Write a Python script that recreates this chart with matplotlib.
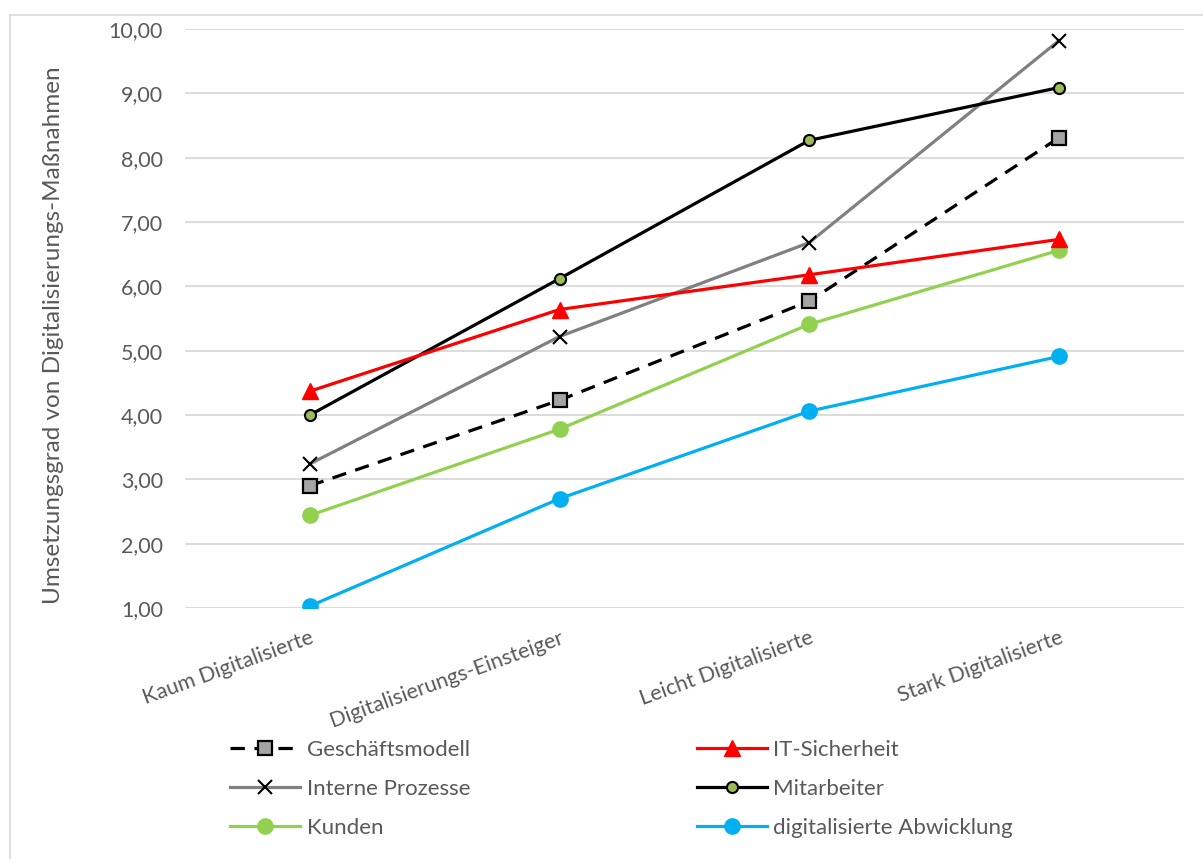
import matplotlib.pyplot as plt
from matplotlib.lines import Line2D

# categories and series values
categories = ['Kaum Digitalisierte', 'Digitalisierungs-Einsteiger',
              'Leicht Digitalisierte', 'Stark Digitalisierte']
geschaeftsmodell = [2.90, 4.23, 5.77, 8.31]
it_sicherheit = [4.37, 5.64, 6.18, 6.73]
interne_prozesse = [3.24, 5.22, 6.68, 9.82]
mitarbeiter = [4.00, 6.12, 8.27, 9.09]
kunden = [2.44, 3.78, 5.41, 6.56]
abwicklung = [1.03, 2.70, 4.06, 4.91]
y_ticks = [1, 2, 3, 4, 5, 6, 7, 8, 9, 10]

plt.rcParams['font.family'] = ['Lato', 'DejaVu Sans']
txt_col = '#595959'

fig = plt.figure(figsize=(12.03, 8.59), dpi=100)
ax = fig.add_axes([0.1538, 0.2922, 0.8302, 0.674])

x = range(len(categories))

# series
l_gm, = ax.plot(x, geschaeftsmodell, color='black', lw=2.3, ls=(0, (4.5, 3)),
                marker='s', ms=10, mfc='#A5A5A5', mec='black', mew=1.6,
                label='Geschäftsmodell', zorder=3)
l_it, = ax.plot(x, it_sicherheit, color='#FF0000', lw=2.3,
                marker='^', ms=11, mfc='#FF0000', mec='#FF0000',
                label='IT-Sicherheit', zorder=4)
l_ip, = ax.plot(x, interne_prozesse, color='#808080', lw=2.3,
                marker='x', ms=10, mec='black', mew=1.5,
                label='Interne Prozesse', zorder=3)
l_ma, = ax.plot(x, mitarbeiter, color='black', lw=2.3,
                marker='o', ms=8, mfc='#9BBB59', mec='black', mew=1.5,
                label='Mitarbeiter', zorder=3)
l_ku, = ax.plot(x, kunden, color='#92D050', lw=2.3,
                marker='o', ms=11, mfc='#92D050', mec='#92D050',
                label='Kunden', zorder=3)
l_ab, = ax.plot(x, abwicklung, color='#00B0F0', lw=2.3,
                marker='o', ms=11, mfc='#00B0F0', mec='#00B0F0',
                label='digitalisierte Abwicklung', zorder=3)

ax.set_xlim(-0.5, 3.5)
ax.set_ylim(1, 10)
ax.set_yticks(y_ticks)
ax.set_yticklabels([f'{v:.2f}'.replace('.', ',') for v in y_ticks])
ax.set_xticks(list(x))
ax.set_xticklabels(categories, rotation=20, ha='right', rotation_mode='anchor')

ax.grid(axis='y', color='#D9D9D9', lw=1.3)
ax.set_axisbelow(True)
for s in ax.spines.values():
    s.set_visible(False)
ax.tick_params(length=0, colors=txt_col, labelsize=15.5)
ax.tick_params(axis='y', pad=16)
ax.tick_params(axis='x', pad=14)

ax.set_ylabel('Umsetzungsgrad von Digitalisierungs-Maßnahmen',
              fontsize=17.5, color=txt_col)
ax.yaxis.set_label_coords(-0.121, 0.472)

# legend, filled row-wise like the original
handles = [l_gm, l_ip, l_ku, l_it, l_ma, l_ab]
leg = fig.legend(handles=handles, labels=[h.get_label() for h in handles],
                 ncol=2, loc='upper left', bbox_to_anchor=(0.1837, 0.149),
                 frameon=False, fontsize=16, handlelength=3.15,
                 handletextpad=0.3, columnspacing=10.2, labelspacing=0.85,
                 borderaxespad=0)
for t in leg.get_texts():
    t.set_color(txt_col)

# outer chart border (only top and left edges fall inside the image)
fig.add_artist(Line2D([10 / 1203, 1], [1 - 15 / 859, 1 - 15 / 859],
                      transform=fig.transFigure, color='#D9D9D9', lw=1.2))
fig.add_artist(Line2D([10 / 1203, 10 / 1203], [0, 1 - 15 / 859],
                      transform=fig.transFigure, color='#D9D9D9', lw=1.2))

fig.savefig('out.png', dpi=100)
